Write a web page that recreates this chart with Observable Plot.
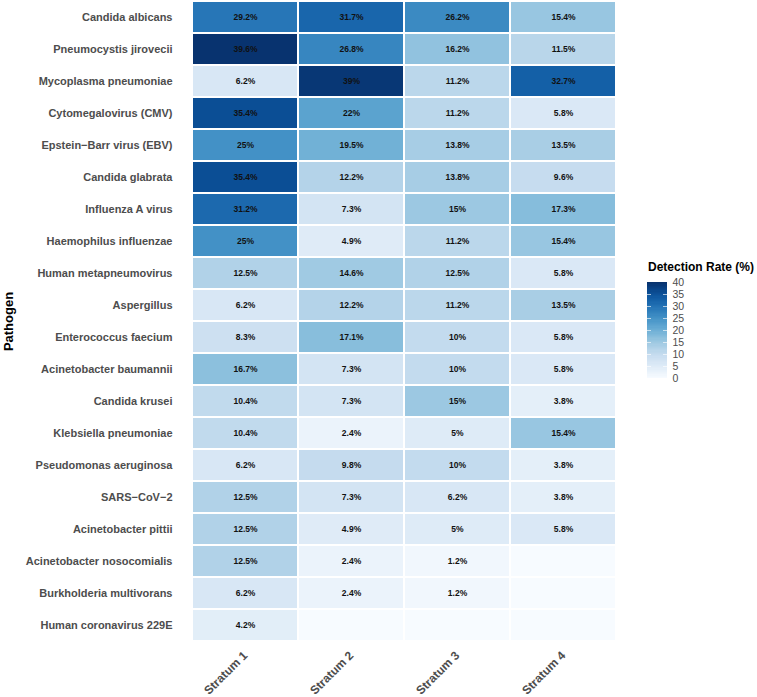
<!DOCTYPE html>
<html>
<head>
<meta charset="utf-8">
<script src="https://cdn.jsdelivr.net/npm/d3@7"></script>
<script src="https://cdn.jsdelivr.net/npm/@observablehq/plot@0.6"></script>
<style>
  html, body { margin: 0; padding: 0; background: #fff; }
  #wrap { position: relative; width: 757px; height: 697px; font-family: "Liberation Sans", Arial, sans-serif; }
  #legend-title { position: absolute; left: 648px; top: 260px; font-size: 12px; font-weight: bold; color: #000; white-space: nowrap; }
  #legend { position: absolute; }
</style>
</head>
<body>
<div id="wrap">
  <div id="chart"></div>
  <div id="legend-title">Detection Rate (%)</div>
  <div id="legend"></div>
</div>
<script>
// Strata (columns)
const strata = ["Stratum 1", "Stratum 2", "Stratum 3", "Stratum 4"];

// Pathogens, top to bottom
const pathogens = [
  "Candida albicans",
  "Pneumocystis jirovecii",
  "Mycoplasma pneumoniae",
  "Cytomegalovirus (CMV)",
  "Epstein\u2212Barr virus (EBV)",
  "Candida glabrata",
  "Influenza A virus",
  "Haemophilus influenzae",
  "Human metapneumovirus",
  "Aspergillus",
  "Enterococcus faecium",
  "Acinetobacter baumannii",
  "Candida krusei",
  "Klebsiella pneumoniae",
  "Pseudomonas aeruginosa",
  "SARS\u2212CoV\u22122",
  "Acinetobacter pittii",
  "Acinetobacter nosocomialis",
  "Burkholderia multivorans",
  "Human coronavirus 229E"
];

// Detection rate (%) per stratum, same order as pathogens; 0 = not detected
const stratum1 = [29.2, 39.6, 6.2, 35.4, 25, 35.4, 31.2, 25, 12.5, 6.2, 8.3, 16.7, 10.4, 10.4, 6.2, 12.5, 12.5, 12.5, 6.2, 4.2];
const stratum2 = [31.7, 26.8, 39, 22, 19.5, 12.2, 7.3, 4.9, 14.6, 12.2, 17.1, 7.3, 7.3, 2.4, 9.8, 7.3, 4.9, 2.4, 2.4, 0];
const stratum3 = [26.2, 16.2, 11.2, 11.2, 13.8, 13.8, 15, 11.2, 12.5, 11.2, 10, 10, 15, 5, 10, 6.2, 5, 1.2, 1.2, 0];
const stratum4 = [15.4, 11.5, 32.7, 5.8, 13.5, 9.6, 17.3, 15.4, 5.8, 13.5, 5.8, 5.8, 3.8, 15.4, 3.8, 3.8, 5.8, 0, 0, 0];

// Legend tick values
const legendTicks = [0, 5, 10, 15, 20, 25, 30, 35, 40];

const series = [stratum1, stratum2, stratum3, stratum4];
const cells = [];
pathogens.forEach((p, i) => {
  strata.forEach((s, j) => {
    cells.push({pathogen: p, stratum: s, rate: series[j][i]});
  });
});

const colorOpts = {type: "linear", scheme: "blues", domain: [0, 40]};
const font = "'Liberation Sans', Arial, sans-serif";

const chart = Plot.plot({
  width: 757,
  height: 697,
  marginLeft: 190,
  marginRight: 140,
  marginTop: 0,
  marginBottom: 55,
  style: {fontFamily: font, background: "white"},
  x: {domain: strata, padding: 0, label: null},
  y: {domain: pathogens, padding: 0, label: null},
  color: colorOpts,
  marks: [
    Plot.cell(cells, {x: "stratum", y: "pathogen", fill: "rate", inset: 1}),
    Plot.text(cells.filter(d => d.rate > 0), {
      x: "stratum", y: "pathogen", text: d => `${d.rate}%`,
      fontSize: 8.5, fontWeight: "bold", fill: "#111"
    }),
    Plot.axisY({
      tickSize: 0, tickPadding: 18, fontSize: 11, fontWeight: "bold", fill: "#4d4d4d",
      label: "Pathogen", labelAnchor: "center", labelOffset: 187, labelArrow: "none"
    }),
    Plot.axisX({
      tickSize: 0, tickPadding: 11, tickRotate: -45, fontSize: 12, fontWeight: "bold", fill: "#4d4d4d",
      label: null
    })
  ]
});
// Axis title styling
chart.querySelectorAll("[aria-label='y-axis label'] text").forEach(t => {
  t.setAttribute("font-size", "13");
  t.setAttribute("font-weight", "bold");
  t.setAttribute("fill", "#000");
});
document.getElementById("chart").appendChild(chart);

// Vertical colour bar legend
const step = 0.5;
const steps = d3.range(0, 40, step);
const lm = {left: 2, right: 40, top: 8, bottom: 8};
const legend = Plot.plot({
  width: 20 + lm.left + lm.right,
  height: 96 + lm.top + lm.bottom,
  marginLeft: lm.left,
  marginRight: lm.right,
  marginTop: lm.top,
  marginBottom: lm.bottom,
  style: {fontFamily: font, background: "transparent", overflow: "visible"},
  x: {domain: [0, 1], axis: null},
  y: {domain: [0, 40], label: null},
  color: colorOpts,
  marks: [
    Plot.rect(steps, {x1: 0, x2: 1, y1: d => d, y2: d => d + step, fill: d => d + step / 2, shapeRendering: "crispEdges"}),
    Plot.ruleY(legendTicks.filter(t => t > 0 && t < 40), {x1: 0, x2: 0.2, stroke: "white", strokeWidth: 0.8, strokeOpacity: 0.8}),
    Plot.ruleY(legendTicks.filter(t => t > 0 && t < 40), {x1: 0.8, x2: 1, stroke: "white", strokeWidth: 0.8, strokeOpacity: 0.8}),
    Plot.axisY({anchor: "right", ticks: legendTicks, tickSize: 0, tickPadding: 5, fontSize: 10.5, fill: "#4d4d4d", label: null})
  ]
});
const lg = document.getElementById("legend");
lg.style.left = (647 - lm.left) + "px";
lg.style.top = (282 - lm.top) + "px";
lg.appendChild(legend);
</script>
</body>
</html>
